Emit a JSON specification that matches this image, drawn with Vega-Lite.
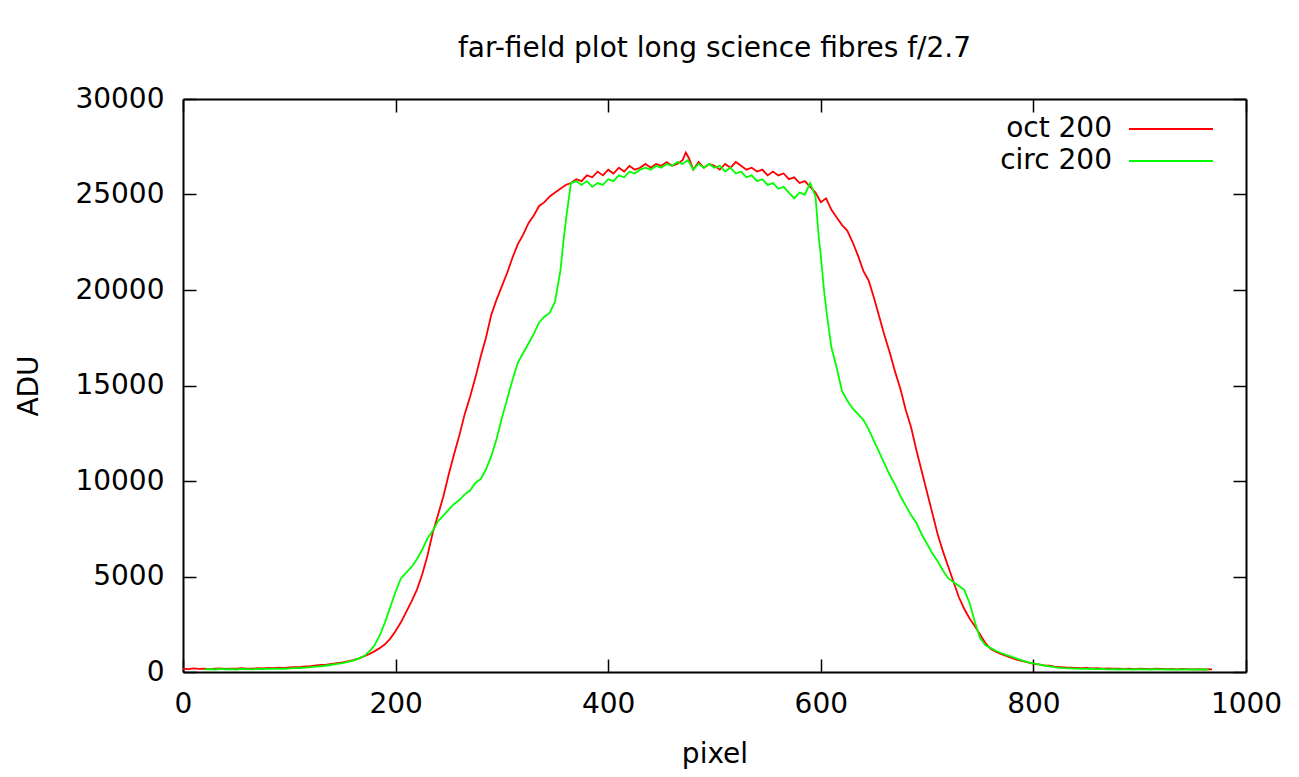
{
  "$schema": "https://vega.github.io/schema/vega-lite/v6.json",
  "width": 1063,
  "height": 573,
  "autosize": {"type": "none"},
  "padding": {"left": 183, "top": 99, "right": 53, "bottom": 105},
  "background": "white",
  "title": {
    "text": "far-field plot long science fibres f/2.7",
    "font": "DejaVu Sans",
    "fontSize": 28,
    "fontWeight": "normal",
    "color": "black",
    "anchor": "middle",
    "baseline": "alphabetic",
    "offset": 0
  },
  "datasets": {
    "oct": [
      {"pixel":0,"adu":170,"curve":"oct 200"},{"pixel":5,"adu":150,"curve":"oct 200"},{"pixel":10,"adu":190,"curve":"oct 200"},{"pixel":15,"adu":160,"curve":"oct 200"},{"pixel":20,"adu":180,"curve":"oct 200"},{"pixel":25,"adu":150,"curve":"oct 200"},{"pixel":30,"adu":170,"curve":"oct 200"},{"pixel":35,"adu":190,"curve":"oct 200"},{"pixel":40,"adu":160,"curve":"oct 200"},{"pixel":45,"adu":180,"curve":"oct 200"},
      {"pixel":50,"adu":170,"curve":"oct 200"},{"pixel":55,"adu":200,"curve":"oct 200"},{"pixel":60,"adu":180,"curve":"oct 200"},{"pixel":65,"adu":170,"curve":"oct 200"},{"pixel":70,"adu":200,"curve":"oct 200"},{"pixel":75,"adu":190,"curve":"oct 200"},{"pixel":80,"adu":220,"curve":"oct 200"},{"pixel":85,"adu":200,"curve":"oct 200"},{"pixel":90,"adu":230,"curve":"oct 200"},{"pixel":95,"adu":210,"curve":"oct 200"},
      {"pixel":100,"adu":240,"curve":"oct 200"},{"pixel":105,"adu":260,"curve":"oct 200"},{"pixel":110,"adu":250,"curve":"oct 200"},{"pixel":115,"adu":290,"curve":"oct 200"},{"pixel":120,"adu":310,"curve":"oct 200"},{"pixel":125,"adu":340,"curve":"oct 200"},{"pixel":130,"adu":370,"curve":"oct 200"},{"pixel":135,"adu":390,"curve":"oct 200"},{"pixel":140,"adu":430,"curve":"oct 200"},{"pixel":145,"adu":470,"curve":"oct 200"},
      {"pixel":150,"adu":500,"curve":"oct 200"},{"pixel":155,"adu":560,"curve":"oct 200"},{"pixel":160,"adu":620,"curve":"oct 200"},{"pixel":165,"adu":700,"curve":"oct 200"},{"pixel":170,"adu":820,"curve":"oct 200"},{"pixel":175,"adu":930,"curve":"oct 200"},{"pixel":180,"adu":1080,"curve":"oct 200"},{"pixel":185,"adu":1250,"curve":"oct 200"},{"pixel":190,"adu":1450,"curve":"oct 200"},{"pixel":195,"adu":1750,"curve":"oct 200"},
      {"pixel":200,"adu":2150,"curve":"oct 200"},{"pixel":205,"adu":2600,"curve":"oct 200"},{"pixel":210,"adu":3150,"curve":"oct 200"},{"pixel":215,"adu":3700,"curve":"oct 200"},{"pixel":220,"adu":4300,"curve":"oct 200"},{"pixel":225,"adu":5100,"curve":"oct 200"},{"pixel":230,"adu":6100,"curve":"oct 200"},{"pixel":235,"adu":7300,"curve":"oct 200"},{"pixel":240,"adu":8250,"curve":"oct 200"},{"pixel":245,"adu":9200,"curve":"oct 200"},
      {"pixel":250,"adu":10350,"curve":"oct 200"},{"pixel":255,"adu":11400,"curve":"oct 200"},{"pixel":260,"adu":12400,"curve":"oct 200"},{"pixel":265,"adu":13500,"curve":"oct 200"},{"pixel":270,"adu":14400,"curve":"oct 200"},{"pixel":275,"adu":15400,"curve":"oct 200"},{"pixel":280,"adu":16500,"curve":"oct 200"},{"pixel":285,"adu":17500,"curve":"oct 200"},{"pixel":290,"adu":18700,"curve":"oct 200"},{"pixel":295,"adu":19500,"curve":"oct 200"},
      {"pixel":300,"adu":20200,"curve":"oct 200"},{"pixel":305,"adu":20900,"curve":"oct 200"},{"pixel":310,"adu":21700,"curve":"oct 200"},{"pixel":315,"adu":22400,"curve":"oct 200"},{"pixel":320,"adu":22900,"curve":"oct 200"},{"pixel":325,"adu":23500,"curve":"oct 200"},{"pixel":330,"adu":23900,"curve":"oct 200"},{"pixel":335,"adu":24400,"curve":"oct 200"},{"pixel":340,"adu":24600,"curve":"oct 200"},{"pixel":345,"adu":24900,"curve":"oct 200"},
      {"pixel":350,"adu":25100,"curve":"oct 200"},{"pixel":355,"adu":25300,"curve":"oct 200"},{"pixel":360,"adu":25500,"curve":"oct 200"},{"pixel":365,"adu":25600,"curve":"oct 200"},{"pixel":370,"adu":25800,"curve":"oct 200"},{"pixel":375,"adu":25700,"curve":"oct 200"},{"pixel":380,"adu":26000,"curve":"oct 200"},{"pixel":385,"adu":25900,"curve":"oct 200"},{"pixel":390,"adu":26200,"curve":"oct 200"},{"pixel":395,"adu":26000,"curve":"oct 200"},
      {"pixel":400,"adu":26300,"curve":"oct 200"},{"pixel":405,"adu":26100,"curve":"oct 200"},{"pixel":410,"adu":26400,"curve":"oct 200"},{"pixel":415,"adu":26200,"curve":"oct 200"},{"pixel":420,"adu":26500,"curve":"oct 200"},{"pixel":425,"adu":26300,"curve":"oct 200"},{"pixel":430,"adu":26400,"curve":"oct 200"},{"pixel":435,"adu":26600,"curve":"oct 200"},{"pixel":440,"adu":26400,"curve":"oct 200"},{"pixel":445,"adu":26600,"curve":"oct 200"},
      {"pixel":450,"adu":26500,"curve":"oct 200"},{"pixel":455,"adu":26700,"curve":"oct 200"},{"pixel":460,"adu":26500,"curve":"oct 200"},{"pixel":465,"adu":26600,"curve":"oct 200"},{"pixel":470,"adu":26800,"curve":"oct 200"},{"pixel":473,"adu":27200,"curve":"oct 200"},{"pixel":476,"adu":26900,"curve":"oct 200"},{"pixel":480,"adu":26300,"curve":"oct 200"},{"pixel":485,"adu":26700,"curve":"oct 200"},{"pixel":490,"adu":26400,"curve":"oct 200"},{"pixel":495,"adu":26600,"curve":"oct 200"},
      {"pixel":500,"adu":26500,"curve":"oct 200"},{"pixel":505,"adu":26300,"curve":"oct 200"},{"pixel":510,"adu":26600,"curve":"oct 200"},{"pixel":515,"adu":26400,"curve":"oct 200"},{"pixel":520,"adu":26700,"curve":"oct 200"},{"pixel":525,"adu":26500,"curve":"oct 200"},{"pixel":530,"adu":26300,"curve":"oct 200"},{"pixel":535,"adu":26400,"curve":"oct 200"},{"pixel":540,"adu":26200,"curve":"oct 200"},{"pixel":545,"adu":26300,"curve":"oct 200"},
      {"pixel":550,"adu":26000,"curve":"oct 200"},{"pixel":555,"adu":26200,"curve":"oct 200"},{"pixel":560,"adu":26000,"curve":"oct 200"},{"pixel":565,"adu":26100,"curve":"oct 200"},{"pixel":570,"adu":25800,"curve":"oct 200"},{"pixel":575,"adu":25900,"curve":"oct 200"},{"pixel":580,"adu":25600,"curve":"oct 200"},{"pixel":585,"adu":25700,"curve":"oct 200"},{"pixel":590,"adu":25400,"curve":"oct 200"},{"pixel":595,"adu":25100,"curve":"oct 200"},
      {"pixel":600,"adu":24600,"curve":"oct 200"},{"pixel":605,"adu":24800,"curve":"oct 200"},{"pixel":610,"adu":24200,"curve":"oct 200"},{"pixel":615,"adu":23800,"curve":"oct 200"},{"pixel":620,"adu":23400,"curve":"oct 200"},{"pixel":625,"adu":23100,"curve":"oct 200"},{"pixel":630,"adu":22500,"curve":"oct 200"},{"pixel":635,"adu":21800,"curve":"oct 200"},{"pixel":640,"adu":21000,"curve":"oct 200"},{"pixel":645,"adu":20500,"curve":"oct 200"},
      {"pixel":650,"adu":19600,"curve":"oct 200"},{"pixel":655,"adu":18600,"curve":"oct 200"},{"pixel":660,"adu":17600,"curve":"oct 200"},{"pixel":665,"adu":16700,"curve":"oct 200"},{"pixel":670,"adu":15700,"curve":"oct 200"},{"pixel":675,"adu":14800,"curve":"oct 200"},{"pixel":680,"adu":13700,"curve":"oct 200"},{"pixel":685,"adu":12800,"curve":"oct 200"},{"pixel":690,"adu":11600,"curve":"oct 200"},{"pixel":695,"adu":10500,"curve":"oct 200"},
      {"pixel":700,"adu":9400,"curve":"oct 200"},{"pixel":705,"adu":8300,"curve":"oct 200"},{"pixel":710,"adu":7200,"curve":"oct 200"},{"pixel":715,"adu":6300,"curve":"oct 200"},{"pixel":720,"adu":5500,"curve":"oct 200"},{"pixel":725,"adu":4700,"curve":"oct 200"},{"pixel":730,"adu":3900,"curve":"oct 200"},{"pixel":735,"adu":3300,"curve":"oct 200"},{"pixel":740,"adu":2800,"curve":"oct 200"},{"pixel":745,"adu":2400,"curve":"oct 200"},
      {"pixel":750,"adu":1950,"curve":"oct 200"},{"pixel":755,"adu":1500,"curve":"oct 200"},{"pixel":760,"adu":1200,"curve":"oct 200"},{"pixel":765,"adu":1050,"curve":"oct 200"},{"pixel":770,"adu":930,"curve":"oct 200"},{"pixel":775,"adu":830,"curve":"oct 200"},{"pixel":780,"adu":730,"curve":"oct 200"},{"pixel":785,"adu":640,"curve":"oct 200"},{"pixel":790,"adu":570,"curve":"oct 200"},{"pixel":795,"adu":500,"curve":"oct 200"},
      {"pixel":800,"adu":430,"curve":"oct 200"},{"pixel":805,"adu":400,"curve":"oct 200"},{"pixel":810,"adu":350,"curve":"oct 200"},{"pixel":815,"adu":330,"curve":"oct 200"},{"pixel":820,"adu":280,"curve":"oct 200"},{"pixel":825,"adu":260,"curve":"oct 200"},{"pixel":830,"adu":240,"curve":"oct 200"},{"pixel":835,"adu":230,"curve":"oct 200"},{"pixel":840,"adu":220,"curve":"oct 200"},{"pixel":845,"adu":200,"curve":"oct 200"},
      {"pixel":850,"adu":210,"curve":"oct 200"},{"pixel":855,"adu":190,"curve":"oct 200"},{"pixel":860,"adu":200,"curve":"oct 200"},{"pixel":865,"adu":180,"curve":"oct 200"},{"pixel":870,"adu":190,"curve":"oct 200"},{"pixel":875,"adu":170,"curve":"oct 200"},{"pixel":880,"adu":180,"curve":"oct 200"},{"pixel":885,"adu":160,"curve":"oct 200"},{"pixel":890,"adu":170,"curve":"oct 200"},{"pixel":895,"adu":150,"curve":"oct 200"},
      {"pixel":900,"adu":170,"curve":"oct 200"},{"pixel":905,"adu":160,"curve":"oct 200"},{"pixel":910,"adu":150,"curve":"oct 200"},{"pixel":915,"adu":170,"curve":"oct 200"},{"pixel":920,"adu":160,"curve":"oct 200"},{"pixel":925,"adu":150,"curve":"oct 200"},{"pixel":930,"adu":160,"curve":"oct 200"},{"pixel":935,"adu":140,"curve":"oct 200"},{"pixel":940,"adu":160,"curve":"oct 200"},{"pixel":945,"adu":150,"curve":"oct 200"},
      {"pixel":950,"adu":140,"curve":"oct 200"},{"pixel":955,"adu":150,"curve":"oct 200"},{"pixel":960,"adu":130,"curve":"oct 200"},{"pixel":965,"adu":150,"curve":"oct 200"},{"pixel":968,"adu":140,"curve":"oct 200"}
    ],
    "circ": [
      {"pixel":20,"adu":140,"curve":"circ 200"},{"pixel":25,"adu":150,"curve":"circ 200"},{"pixel":30,"adu":130,"curve":"circ 200"},{"pixel":35,"adu":160,"curve":"circ 200"},{"pixel":40,"adu":140,"curve":"circ 200"},{"pixel":45,"adu":150,"curve":"circ 200"},
      {"pixel":50,"adu":130,"curve":"circ 200"},{"pixel":55,"adu":160,"curve":"circ 200"},{"pixel":60,"adu":150,"curve":"circ 200"},{"pixel":65,"adu":140,"curve":"circ 200"},{"pixel":70,"adu":160,"curve":"circ 200"},{"pixel":75,"adu":150,"curve":"circ 200"},{"pixel":80,"adu":170,"curve":"circ 200"},{"pixel":85,"adu":160,"curve":"circ 200"},{"pixel":90,"adu":180,"curve":"circ 200"},{"pixel":95,"adu":170,"curve":"circ 200"},
      {"pixel":100,"adu":190,"curve":"circ 200"},{"pixel":105,"adu":200,"curve":"circ 200"},{"pixel":110,"adu":210,"curve":"circ 200"},{"pixel":115,"adu":230,"curve":"circ 200"},{"pixel":120,"adu":250,"curve":"circ 200"},{"pixel":125,"adu":280,"curve":"circ 200"},{"pixel":130,"adu":300,"curve":"circ 200"},{"pixel":135,"adu":340,"curve":"circ 200"},{"pixel":140,"adu":380,"curve":"circ 200"},{"pixel":145,"adu":420,"curve":"circ 200"},
      {"pixel":150,"adu":470,"curve":"circ 200"},{"pixel":155,"adu":530,"curve":"circ 200"},{"pixel":160,"adu":600,"curve":"circ 200"},{"pixel":165,"adu":700,"curve":"circ 200"},{"pixel":170,"adu":820,"curve":"circ 200"},{"pixel":175,"adu":1050,"curve":"circ 200"},{"pixel":180,"adu":1380,"curve":"circ 200"},{"pixel":185,"adu":1900,"curve":"circ 200"},{"pixel":190,"adu":2600,"curve":"circ 200"},{"pixel":195,"adu":3400,"curve":"circ 200"},
      {"pixel":200,"adu":4200,"curve":"circ 200"},{"pixel":205,"adu":4900,"curve":"circ 200"},{"pixel":210,"adu":5200,"curve":"circ 200"},{"pixel":215,"adu":5500,"curve":"circ 200"},{"pixel":220,"adu":5900,"curve":"circ 200"},{"pixel":225,"adu":6400,"curve":"circ 200"},{"pixel":230,"adu":7000,"curve":"circ 200"},{"pixel":235,"adu":7400,"curve":"circ 200"},{"pixel":240,"adu":7900,"curve":"circ 200"},{"pixel":245,"adu":8200,"curve":"circ 200"},
      {"pixel":250,"adu":8500,"curve":"circ 200"},{"pixel":255,"adu":8800,"curve":"circ 200"},{"pixel":260,"adu":9000,"curve":"circ 200"},{"pixel":265,"adu":9300,"curve":"circ 200"},{"pixel":270,"adu":9500,"curve":"circ 200"},{"pixel":275,"adu":9900,"curve":"circ 200"},{"pixel":280,"adu":10100,"curve":"circ 200"},{"pixel":285,"adu":10600,"curve":"circ 200"},{"pixel":290,"adu":11300,"curve":"circ 200"},{"pixel":295,"adu":12200,"curve":"circ 200"},
      {"pixel":300,"adu":13300,"curve":"circ 200"},{"pixel":305,"adu":14300,"curve":"circ 200"},{"pixel":310,"adu":15300,"curve":"circ 200"},{"pixel":315,"adu":16200,"curve":"circ 200"},{"pixel":320,"adu":16700,"curve":"circ 200"},{"pixel":325,"adu":17200,"curve":"circ 200"},{"pixel":330,"adu":17700,"curve":"circ 200"},{"pixel":335,"adu":18300,"curve":"circ 200"},{"pixel":340,"adu":18600,"curve":"circ 200"},{"pixel":345,"adu":18800,"curve":"circ 200"},
      {"pixel":350,"adu":19400,"curve":"circ 200"},{"pixel":355,"adu":21000,"curve":"circ 200"},{"pixel":358,"adu":22600,"curve":"circ 200"},{"pixel":361,"adu":24000,"curve":"circ 200"},{"pixel":365,"adu":25600,"curve":"circ 200"},{"pixel":370,"adu":25700,"curve":"circ 200"},{"pixel":375,"adu":25500,"curve":"circ 200"},{"pixel":380,"adu":25700,"curve":"circ 200"},{"pixel":385,"adu":25400,"curve":"circ 200"},{"pixel":390,"adu":25600,"curve":"circ 200"},{"pixel":395,"adu":25500,"curve":"circ 200"},
      {"pixel":400,"adu":25800,"curve":"circ 200"},{"pixel":405,"adu":25700,"curve":"circ 200"},{"pixel":410,"adu":26000,"curve":"circ 200"},{"pixel":415,"adu":25900,"curve":"circ 200"},{"pixel":420,"adu":26200,"curve":"circ 200"},{"pixel":425,"adu":26100,"curve":"circ 200"},{"pixel":430,"adu":26300,"curve":"circ 200"},{"pixel":435,"adu":26400,"curve":"circ 200"},{"pixel":440,"adu":26300,"curve":"circ 200"},{"pixel":445,"adu":26500,"curve":"circ 200"},
      {"pixel":450,"adu":26400,"curve":"circ 200"},{"pixel":455,"adu":26600,"curve":"circ 200"},{"pixel":460,"adu":26500,"curve":"circ 200"},{"pixel":465,"adu":26700,"curve":"circ 200"},{"pixel":470,"adu":26600,"curve":"circ 200"},{"pixel":475,"adu":26800,"curve":"circ 200"},{"pixel":480,"adu":26300,"curve":"circ 200"},{"pixel":485,"adu":26600,"curve":"circ 200"},{"pixel":490,"adu":26400,"curve":"circ 200"},{"pixel":495,"adu":26600,"curve":"circ 200"},
      {"pixel":500,"adu":26400,"curve":"circ 200"},{"pixel":505,"adu":26500,"curve":"circ 200"},{"pixel":510,"adu":26200,"curve":"circ 200"},{"pixel":515,"adu":26400,"curve":"circ 200"},{"pixel":520,"adu":26100,"curve":"circ 200"},{"pixel":525,"adu":26200,"curve":"circ 200"},{"pixel":530,"adu":25900,"curve":"circ 200"},{"pixel":535,"adu":26000,"curve":"circ 200"},{"pixel":540,"adu":25700,"curve":"circ 200"},{"pixel":545,"adu":25800,"curve":"circ 200"},
      {"pixel":550,"adu":25500,"curve":"circ 200"},{"pixel":555,"adu":25600,"curve":"circ 200"},{"pixel":560,"adu":25300,"curve":"circ 200"},{"pixel":565,"adu":25400,"curve":"circ 200"},{"pixel":570,"adu":25100,"curve":"circ 200"},{"pixel":575,"adu":24800,"curve":"circ 200"},{"pixel":580,"adu":25100,"curve":"circ 200"},{"pixel":585,"adu":25000,"curve":"circ 200"},{"pixel":590,"adu":25600,"curve":"circ 200"},{"pixel":595,"adu":24900,"curve":"circ 200"},
      {"pixel":598,"adu":22800,"curve":"circ 200"},{"pixel":600,"adu":21800,"curve":"circ 200"},{"pixel":603,"adu":20000,"curve":"circ 200"},{"pixel":606,"adu":18600,"curve":"circ 200"},{"pixel":610,"adu":17000,"curve":"circ 200"},{"pixel":615,"adu":15900,"curve":"circ 200"},{"pixel":620,"adu":14700,"curve":"circ 200"},{"pixel":625,"adu":14200,"curve":"circ 200"},{"pixel":630,"adu":13800,"curve":"circ 200"},{"pixel":635,"adu":13500,"curve":"circ 200"},{"pixel":640,"adu":13200,"curve":"circ 200"},{"pixel":645,"adu":12700,"curve":"circ 200"},
      {"pixel":650,"adu":12100,"curve":"circ 200"},{"pixel":655,"adu":11500,"curve":"circ 200"},{"pixel":660,"adu":10900,"curve":"circ 200"},{"pixel":665,"adu":10300,"curve":"circ 200"},{"pixel":670,"adu":9800,"curve":"circ 200"},{"pixel":675,"adu":9200,"curve":"circ 200"},{"pixel":680,"adu":8700,"curve":"circ 200"},{"pixel":685,"adu":8200,"curve":"circ 200"},{"pixel":690,"adu":7800,"curve":"circ 200"},{"pixel":695,"adu":7200,"curve":"circ 200"},
      {"pixel":700,"adu":6700,"curve":"circ 200"},{"pixel":705,"adu":6200,"curve":"circ 200"},{"pixel":710,"adu":5800,"curve":"circ 200"},{"pixel":715,"adu":5300,"curve":"circ 200"},{"pixel":720,"adu":4900,"curve":"circ 200"},{"pixel":725,"adu":4700,"curve":"circ 200"},{"pixel":730,"adu":4500,"curve":"circ 200"},{"pixel":735,"adu":4300,"curve":"circ 200"},{"pixel":740,"adu":3600,"curve":"circ 200"},{"pixel":745,"adu":2600,"curve":"circ 200"},
      {"pixel":750,"adu":1750,"curve":"circ 200"},{"pixel":755,"adu":1400,"curve":"circ 200"},{"pixel":760,"adu":1250,"curve":"circ 200"},{"pixel":765,"adu":1100,"curve":"circ 200"},{"pixel":770,"adu":980,"curve":"circ 200"},{"pixel":775,"adu":880,"curve":"circ 200"},{"pixel":780,"adu":790,"curve":"circ 200"},{"pixel":785,"adu":690,"curve":"circ 200"},{"pixel":790,"adu":600,"curve":"circ 200"},{"pixel":795,"adu":510,"curve":"circ 200"},
      {"pixel":800,"adu":450,"curve":"circ 200"},{"pixel":805,"adu":400,"curve":"circ 200"},{"pixel":810,"adu":340,"curve":"circ 200"},{"pixel":815,"adu":300,"curve":"circ 200"},{"pixel":820,"adu":250,"curve":"circ 200"},{"pixel":825,"adu":220,"curve":"circ 200"},{"pixel":830,"adu":200,"curve":"circ 200"},{"pixel":835,"adu":190,"curve":"circ 200"},{"pixel":840,"adu":180,"curve":"circ 200"},{"pixel":845,"adu":170,"curve":"circ 200"},
      {"pixel":850,"adu":160,"curve":"circ 200"},{"pixel":855,"adu":170,"curve":"circ 200"},{"pixel":860,"adu":150,"curve":"circ 200"},{"pixel":865,"adu":160,"curve":"circ 200"},{"pixel":870,"adu":140,"curve":"circ 200"},{"pixel":875,"adu":150,"curve":"circ 200"},{"pixel":880,"adu":130,"curve":"circ 200"},{"pixel":885,"adu":150,"curve":"circ 200"},{"pixel":890,"adu":140,"curve":"circ 200"},{"pixel":895,"adu":130,"curve":"circ 200"},
      {"pixel":900,"adu":150,"curve":"circ 200"},{"pixel":905,"adu":140,"curve":"circ 200"},{"pixel":910,"adu":130,"curve":"circ 200"},{"pixel":915,"adu":150,"curve":"circ 200"},{"pixel":920,"adu":140,"curve":"circ 200"},{"pixel":925,"adu":130,"curve":"circ 200"},{"pixel":930,"adu":140,"curve":"circ 200"},{"pixel":935,"adu":120,"curve":"circ 200"},{"pixel":940,"adu":140,"curve":"circ 200"},{"pixel":945,"adu":130,"curve":"circ 200"},
      {"pixel":950,"adu":120,"curve":"circ 200"},{"pixel":955,"adu":140,"curve":"circ 200"},{"pixel":960,"adu":130,"curve":"circ 200"},{"pixel":965,"adu":120,"curve":"circ 200"}
    ]
  },
  "layer": [
    {
      "data": {"name": "oct"},
      "mark": {"type": "line", "strokeWidth": 1.8},
      "encoding": {
        "x": {
          "field": "pixel", "type": "quantitative",
          "scale": {"domain": [0, 1000], "nice": false, "zero": false},
          "axis": {"orient": "bottom", "values": [0, 200, 400, 600, 800, 1000], "format": "d", "labelPadding": 31,
                   "title": "pixel", "titleX": 531.5, "titleY": 90, "titleBaseline": "alphabetic", "titleAlign": "center"}
        },
        "y": {
          "field": "adu", "type": "quantitative",
          "scale": {"domain": [0, 30000], "nice": false},
          "axis": {"orient": "left", "values": [0, 5000, 10000, 15000, 20000, 25000, 30000], "format": "d", "labelPadding": 32,
                   "title": "ADU", "titleX": -146, "titleY": 286.5, "titleBaseline": "alphabetic", "titleAlign": "center", "titleAngle": -90}
        },
        "color": {
          "field": "curve", "type": "nominal",
          "scale": {"domain": ["oct 200", "circ 200"], "range": ["#ff0000", "#00ff00"]},
          "legend": {
            "orient": "none", "legendX": 973, "legendY": 15, "title": null, "padding": 0,
            "symbolType": "M-3,0H3", "symbolSize": 784, "symbolStrokeWidth": 2,
            "labelAlign": "right", "labelOffset": -74, "labelFont": "DejaVu Sans",
            "labelFontSize": 28, "labelColor": "black", "labelLimit": 400, "rowPadding": 3
          }
        }
      }
    },
    {
      "data": {"name": "circ"},
      "mark": {"type": "line", "strokeWidth": 1.8},
      "encoding": {
        "x": {"field": "pixel", "type": "quantitative",
              "axis": {"orient": "top", "values": [0, 200, 400, 600, 800, 1000], "labels": false, "title": null}},
        "y": {"field": "adu", "type": "quantitative",
              "axis": {"orient": "right", "values": [0, 5000, 10000, 15000, 20000, 25000, 30000], "labels": false, "title": null}},
        "color": {"field": "curve", "type": "nominal"}
      }
    }
  ],
  "resolve": {"axis": {"x": "independent", "y": "independent"}},
  "config": {
    "view": {"stroke": null},
    "axis": {
      "domainColor": "black", "domainWidth": 2, "tickColor": "black", "tickWidth": 1.5, "tickSize": -13,
      "grid": false, "labelFont": "DejaVu Sans", "labelFontSize": 28, "labelColor": "black",
      "titleFont": "DejaVu Sans", "titleFontSize": 28, "titleFontWeight": "normal", "titleColor": "black",
      "labelFlush": false, "labelOverlap": false
    }
  }
}
